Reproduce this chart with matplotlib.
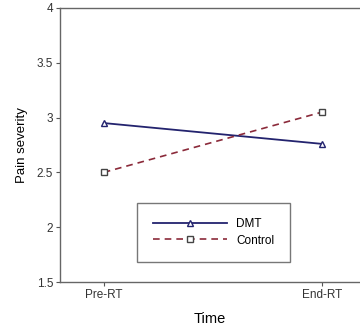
import matplotlib
matplotlib.use("Agg")
import matplotlib.pyplot as plt

plt.rcParams["font.family"] = ["Liberation Sans", "DejaVu Sans"]

# Data
time_labels = ["Pre-RT", "End-RT"]
dmt_values = [2.95, 2.76]
control_values = [2.50, 3.05]

x = list(range(len(time_labels)))

fig = plt.figure(figsize=(3.6, 3.31), dpi=100)
ax = fig.add_axes([0.167, 0.148, 0.833, 0.828])

ax.plot(x, dmt_values, color="#23236e", lw=1.3, marker="^", markersize=5,
        markerfacecolor="white", markeredgecolor="#23236e", label="DMT")
ax.plot(x, control_values, color="#8b2a3a", lw=1.2, ls=(0, (4, 3)), marker="s",
        markersize=5, markerfacecolor="white", markeredgecolor="#444444",
        label="Control")

ax.set_xlim(-0.2, 1.174)
ax.set_ylim(1.5, 4)
ax.set_xticks(x)
ax.set_xticklabels(time_labels, fontsize=8.5)
ax.set_yticks([1.5, 2, 2.5, 3, 3.5, 4])
ax.set_yticklabels(["1.5", "2", "2.5", "3", "3.5", "4"], fontsize=8.5)
ax.tick_params(length=3, color="#555555", labelcolor="#333333", pad=2)

for side in ["left", "bottom", "top"]:
    ax.spines[side].set_color("#666666")
    ax.spines[side].set_linewidth(1.0)
ax.spines["right"].set_visible(False)

ax.set_xlabel("Time", fontsize=10.5, labelpad=8)
ax.set_ylabel("Pain severity", fontsize=9.5, labelpad=6)

leg = ax.legend(loc="upper left", bbox_to_anchor=(0.257, 0.288), fontsize=8.5,
                frameon=True, fancybox=False, handlelength=6.3,
                borderpad=1.3, labelspacing=0.35, handletextpad=0.8,
                borderaxespad=0)
leg.get_frame().set_edgecolor("#555555")
leg.get_frame().set_linewidth(1.0)

fig.savefig("out.png", dpi=100)
